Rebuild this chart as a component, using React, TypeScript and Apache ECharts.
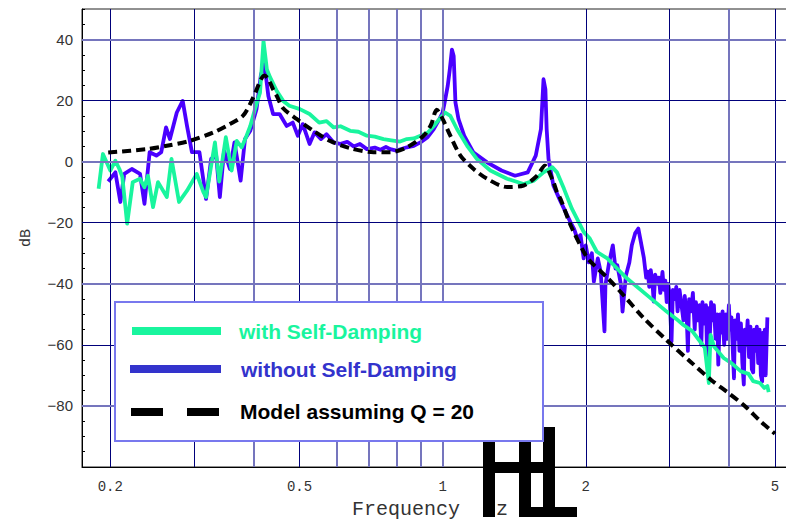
import React, { useEffect, useRef } from "react";
import * as echarts from "echarts";

// Axis / grid values
const gridFreqs = [0.2, 0.3, 0.4, 0.5, 0.6, 0.7, 0.8, 0.9, 1, 2, 3, 4, 5];
const freqTickLabels = [0.2, 0.5, 1, 2, 5];
const dbGridValues = [40, 20, 0, -20, -40, -60, -80];

const seriesNames = ["with Self-Damping", "without Self-Damping", "Model assuming Q = 20"];

// with Self-Damping (green)
const withFreq = [
  0.189, 0.193, 0.2, 0.205, 0.209, 0.212, 0.217, 0.223, 0.231, 0.236, 0.24, 0.246, 0.252, 0.263, 0.269,
  0.279, 0.29, 0.304, 0.314, 0.318, 0.332, 0.339, 0.35, 0.36, 0.369, 0.378, 0.387, 0.394, 0.403, 0.413,
  0.42, 0.427, 0.434, 0.448, 0.462, 0.476, 0.501, 0.525, 0.55, 0.57, 0.59, 0.61, 0.639, 0.665, 0.693,
  0.72, 0.751, 0.78, 0.814, 0.841, 0.87, 0.898, 0.93, 0.958, 0.985, 1.012, 1.038, 1.072, 1.126, 1.18,
  1.26, 1.366, 1.48, 1.556, 1.63, 1.7, 1.74, 1.8, 1.87, 1.98, 2.04, 2.11, 2.22, 2.44, 2.69, 2.96, 3.1,
  3.21, 3.35, 3.48, 3.56, 3.63, 3.66, 3.72, 3.9, 4.05, 4.24, 4.4, 4.5, 4.65, 4.75, 4.82, 4.85,
];
const withDb = [
  -8.9, 2.5, -2.9, 0.3, -2.4, -5, -20.3, -6.7, -5.6, -8.4, -4.6, -14.9, -6.7, -11.6, 0.9,
  -13.2, -9.5, -4.0, -10, -11.6, 6.3, -6.5, 8.0, -2.9, 6.8, 4.7, 8.5, 11.7, 17.2, 22.6,
  39.5, 30.2, 27.5, 23.1, 19.9, 18.3, 17.2, 15.6, 12.8, 13.3, 11.2, 11.6, 10.1, 9.8, 8.5,
  8.2, 7.4, 7.0, 6.6, 7.4, 7.6, 8.5, 9.5, 11.7, 14.0, 16.1, 15.0, 10.7, 5.2, 0.9,
  -2.9, -5.6, -7.3, -6.2, -3.5, -1.8, -3.5, -8.9, -15.4, -23, -25.2, -29.5, -31.7, -38.2, -43.7, -49.1, -51.5,
  -53.5, -55.5, -58.9, -61, -72.5, -56.7, -60.5, -64.3, -66, -68.7, -69.5, -71.9, -72.5, -74.1, -73.5, -75.5,
];

// without Self-Damping (blue)
const withoutFreq = [
  0.198, 0.205, 0.21, 0.214, 0.222, 0.231, 0.236, 0.242, 0.25, 0.256, 0.262, 0.267, 0.276, 0.284, 0.29,
  0.297, 0.308, 0.318, 0.326, 0.334, 0.34, 0.347, 0.357, 0.365, 0.376, 0.384, 0.394, 0.406, 0.415, 0.422,
  0.43, 0.44, 0.454, 0.47, 0.484, 0.496, 0.508, 0.525, 0.538, 0.555, 0.57, 0.59, 0.608, 0.63, 0.65,
  0.67, 0.693, 0.72, 0.74, 0.76, 0.776, 0.8, 0.841, 0.87, 0.898, 0.93, 0.958, 0.985, 1.0, 1.01,
  1.025, 1.035, 1.046, 1.055, 1.064, 1.08, 1.11, 1.16, 1.24, 1.33, 1.42, 1.51, 1.57, 1.61, 1.63,
  1.645, 1.655, 1.67, 1.71, 1.77, 1.857, 1.89, 1.92, 1.95, 1.98, 2.0, 2.03, 2.06, 2.08, 2.12,
  2.15, 2.19, 2.2, 2.24, 2.28, 2.31, 2.33, 2.37, 2.39, 2.43, 2.47, 2.5, 2.54, 2.58, 2.61,
  2.65, 2.68, 2.7, 2.72, 2.74, 2.76, 2.78, 2.8, 2.83, 2.85, 2.87, 2.9, 2.92, 2.94, 2.96,
  2.98, 3.0, 3.03, 3.05, 3.08, 3.1, 3.12, 3.15, 3.18, 3.21, 3.23, 3.26, 3.28, 3.3, 3.33,
  3.36, 3.39, 3.41, 3.44, 3.47, 3.5, 3.52, 3.55, 3.58, 3.6, 3.62, 3.65, 3.67, 3.7, 3.72,
  3.75, 3.78, 3.8, 3.83, 3.86, 3.88, 3.91, 3.94, 3.97, 4.0, 4.02, 4.05, 4.08, 4.1, 4.12,
  4.15, 4.18, 4.21, 4.24, 4.27, 4.3, 4.32, 4.35, 4.38, 4.41, 4.44, 4.47, 4.5, 4.52, 4.55,
  4.58, 4.61, 4.64, 4.67, 4.7, 4.72, 4.74, 4.76, 4.78, 4.8, 4.82,
];
const withoutDb = [
  -6.5, -3.5, -13.2, -4.0, -2.4, -4.0, -13.8, 3.1, 2.0, 3.1, 11.2, 7.4, 16.1, 19.9, 11.7,
  3.1, 3.1, -12.2, 0.9, 2.0, -11.6, 3.6, -2.4, 6.3, -6.2, 7.4, 10.1, 17.2, 28.6, 31.9,
  21.5, 15.6, 15.6, 11.7, 12.8, 8.5, 12.3, 5.8, 9.6, 7.4, 9.0, 6.3, 5.8, 6.5, 5.0,
  5.8, 4.1, 4.6, 3.9, 4.8, 4.1, 3.6, 4.7, 5.2, 6.3, 8.0, 10.7, 14.0, 16.1, 19.4,
  24.8, 30.0, 36.7, 34.6, 19.4, 13.9, 8.5, 3.1, -0.2, -2.9, -4.6, -3.5, 2.0, 10.7, 27.0,
  23.7, 10.7, 0.9, -7.8, -13.0, -19.8, -22, -25.2, -24, -31.7, -27.4, -33, -30, -39.3, -31.7,
  -36, -55.6, -40.4, -33, -27.4, -35, -33.9, -40, -49.1, -37.2, -33, -27.4, -23.5, -21.9, -26,
  -31.5, -38, -36, -41, -35.5, -39, -45.8, -37, -40, -38, -43, -36.1, -42, -39, -46,
  -40, -43, -58.9, -42, -45, -41, -49, -42, -47, -52, -44, -50, -62, -45, -49,
  -43, -55, -46, -52, -47, -60, -46, -53, -47, -64, -48, -56, -46, -52, -47,
  -58, -50, -66.5, -50, -56, -49, -60, -50, -58, -47, -55, -51, -63, -71, -52,
  -58, -50, -62, -53, -66, -73, -55, -60, -52, -64, -54, -68, -69, -55, -62,
  -54, -66, -55, -70, -72, -56, -64, -55, -70, -60, -51,
];

// Model assuming Q = 20 (black dashed)
const modelFreq = [
  0.198, 0.239, 0.263, 0.294, 0.33, 0.357, 0.38, 0.394, 0.406, 0.415, 0.422, 0.43, 0.44, 0.448, 0.462,
  0.494, 0.535, 0.58, 0.639, 0.716, 0.776, 0.841, 0.912, 0.945, 0.972, 1.0, 1.038, 1.09, 1.162, 1.24,
  1.366, 1.48, 1.58, 1.64, 1.71, 1.74, 1.77, 1.86, 1.98, 2.04, 2.22, 2.41, 2.64, 2.96, 3.32,
  3.67, 3.97, 4.32, 4.66, 5.0,
];
const modelDb = [
  3.0, 4.1, 5.2, 6.8, 9.6, 12.3, 15.0, 19.0, 23.5, 27.0, 28.2, 27.0, 23.7, 21.5, 17.5,
  13.9, 10.1, 6.8, 4.4, 3.1, 3.1, 4.7, 8.5, 12.0, 17.0, 14.0, 8.5, 2.0, -2.4, -5.6,
  -8.3, -7.8, -4.6, -1.3, -6.7, -10, -12.2, -20.9, -29.5, -32.5, -38, -44, -51, -58.5, -65.5,
  -71.5, -75.5, -80, -85, -89.1,
];

const pair = (xs: number[], ys: number[]) => xs.map((x, i) => [x, ys[i]]);

export default function App() {
  const ref = useRef<HTMLDivElement>(null);

  useEffect(() => {
    if (!ref.current) return;
    const chart = echarts.init(ref.current, undefined, { renderer: "svg" });

    const faintX = new Set([0.4, 0.6, 0.7, 0.8, 0.9, 1, 4]);
    const faintY = new Set([40, 0, -40, -80]);
    const dark = { color: "#00007a", width: 1, type: "solid" as const };
    const light = { color: "#7575bd", width: 2, type: "solid" as const };

    const gridLines: any[] = [
      ...gridFreqs.map((f) => ({
        xAxis: f,
        lineStyle: faintX.has(f) ? light : dark,
        label: freqTickLabels.includes(f)
          ? {
              show: true,
              position: "start",
              formatter: String(f),
              distance: 13,
              fontFamily: "Liberation Mono",
              fontSize: 14,
              color: "#333",
            }
          : { show: false },
      })),
      ...dbGridValues.map((v) => ({
        yAxis: v,
        lineStyle: faintY.has(v) ? light : dark,
        label: { show: false },
      })),
    ];

    const green = "#19f59e";
    const blue = "#4a00ff";

    chart.setOption({
      animation: false,
      backgroundColor: "#ffffff",
      grid: {
        left: 82,
        top: 9,
        width: 712,
        height: 460,
        show: true,
        borderColor: "#222",
        borderWidth: 1,
      },
      xAxis: {
        type: "log",
        logBase: 10,
        min: 0.1744,
        max: 5.483,
        axisLine: { show: true, onZero: false, lineStyle: { color: "#000", width: 1 } },
        axisTick: { show: false },
        axisLabel: { show: false },
        splitLine: { show: false },
        name: "Frequency  Hz",
        nameLocation: "middle",
        nameGap: 32,
        nameTextStyle: {
          fontFamily: "Liberation Mono",
          fontSize: 20,
          color: "#333",
          padding: [0, 16, 0, 0],
        },
      },
      yAxis: {
        type: "value",
        min: -100,
        max: 50,
        interval: 5,
        axisLine: { show: true, onZero: false, lineStyle: { color: "#000", width: 1 } },
        axisTick: { show: true, inside: true, length: 3, lineStyle: { color: "#000" } },
        axisLabel: {
          formatter: (v: number) =>
            v % 20 === 0 && v > -100 && v < 50 ? String(v).replace("-", "\u2212") : "",
          fontFamily: "Liberation Sans",
          fontSize: 15,
          color: "#333",
          margin: 9,
        },
        splitLine: { show: false },
        name: "dB",
        nameLocation: "middle",
        nameRotate: 90,
        nameGap: 48,
        nameTextStyle: { fontFamily: "Liberation Mono", fontSize: 15, color: "#333" },
      },
      series: [
        {
          type: "line",
          name: "grid",
          z: 1,
          silent: true,
          data: [[1, 0]],
          symbol: "none",
          lineStyle: { opacity: 0 },
          markLine: {
            silent: true,
            symbol: ["none", "none"],
            animation: false,
            label: { show: false },
            emphasis: { disabled: true },
            data: gridLines,
          },
        },
        {
          type: "line",
          name: seriesNames[1],
          z: 3,
          data: pair(withoutFreq, withoutDb),
          symbol: "none",
          lineStyle: { color: blue, width: 3.8, join: "round" },
        },
        {
          type: "line",
          name: seriesNames[0],
          z: 4,
          data: pair(withFreq, withDb),
          symbol: "none",
          lineStyle: { color: green, width: 3.8, join: "round" },
        },
        {
          type: "line",
          name: seriesNames[2],
          z: 5,
          data: pair(modelFreq, modelDb),
          symbol: "none",
          smooth: 0.3,
          lineStyle: { color: "#000", width: 4, type: [9, 5] },
        },
      ],
      graphic: [
        { type: "rect", z: 100, shape: { x: 483, y: 430, width: 12, height: 87 }, style: { fill: "#000" } },
        { type: "rect", z: 100, shape: { x: 483, y: 462, width: 72, height: 11 }, style: { fill: "#000" } },
        { type: "rect", z: 100, shape: { x: 519, y: 430, width: 12, height: 87 }, style: { fill: "#000" } },
        { type: "rect", z: 100, shape: { x: 543, y: 427, width: 12, height: 90 }, style: { fill: "#000" } },
        { type: "rect", z: 100, shape: { x: 519, y: 507, width: 58, height: 10 }, style: { fill: "#000" } },
        {
          type: "rect",
          z: 110,
          shape: { x: 115, y: 302, width: 428, height: 139 },
          style: { fill: "#fff", stroke: "#7878ee", lineWidth: 2 },
        },
        {
          type: "line",
          z: 111,
          shape: { x1: 132, y1: 331, x2: 221, y2: 331 },
          style: { stroke: green, lineWidth: 8 },
        },
        {
          type: "text",
          z: 111,
          style: {
            text: seriesNames[0],
            x: 239,
            y: 331,
            fill: green,
            font: 'bold 21px "Liberation Sans"',
            textVerticalAlign: "middle",
          },
        },
        {
          type: "line",
          z: 111,
          shape: { x1: 130, y1: 369, x2: 221, y2: 369 },
          style: { stroke: "#3333cc", lineWidth: 8 },
        },
        {
          type: "text",
          z: 111,
          style: {
            text: seriesNames[1],
            x: 241,
            y: 369,
            fill: "#3333cc",
            font: 'bold 21px "Liberation Sans"',
            textVerticalAlign: "middle",
          },
        },
        {
          type: "line",
          z: 111,
          shape: { x1: 131, y1: 412, x2: 219, y2: 412 },
          style: { stroke: "#000", lineWidth: 8, lineDash: [32, 24] },
        },
        {
          type: "text",
          z: 111,
          style: {
            text: seriesNames[2],
            x: 240,
            y: 411,
            fill: "#000",
            font: 'bold 21px "Liberation Sans"',
            textVerticalAlign: "middle",
          },
        },
      ],
    });

    return () => chart.dispose();
  }, []);

  return (
    <div
      style={{
        position: "fixed",
        left: 0,
        top: 0,
        width: 786,
        height: 524,
        overflow: "hidden",
        background: "#fff",
      }}
    >
      <div ref={ref} style={{ width: 800, height: 524 }} />
    </div>
  );
}
